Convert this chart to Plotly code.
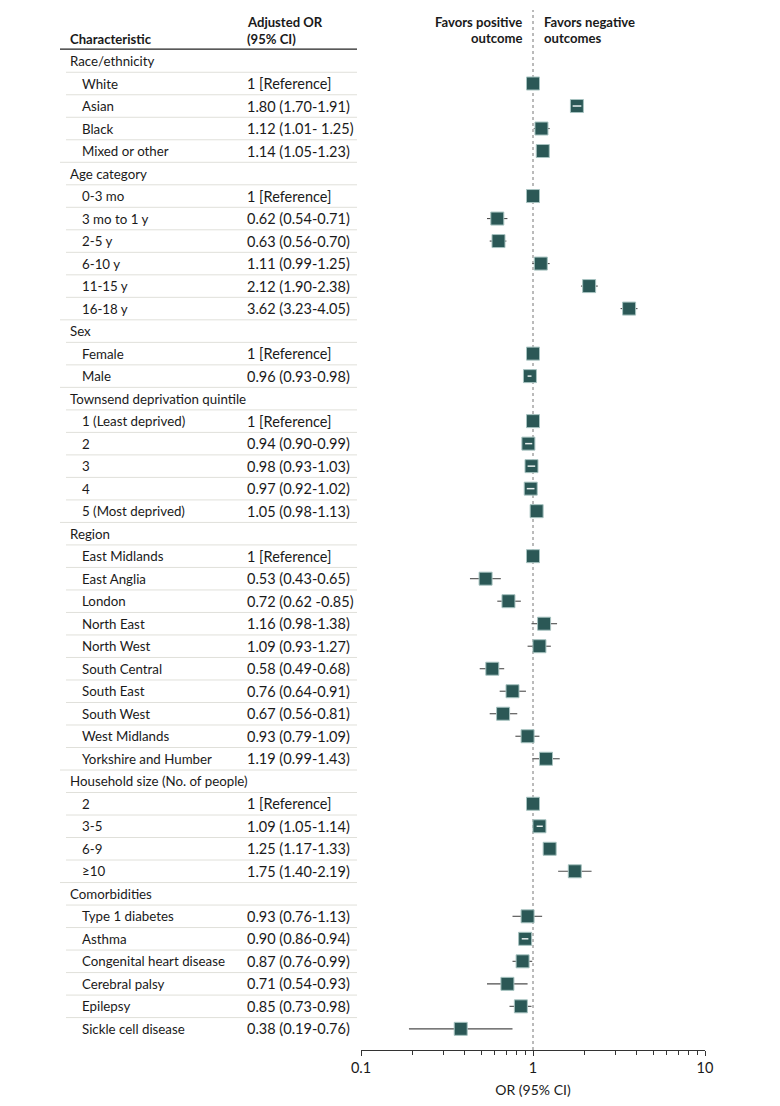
import plotly.graph_objects as go

row_labels = [
    "Race/ethnicity", "White", "Asian", "Black", "Mixed or other",
    "Age category", "0-3 mo", "3 mo to 1 y", "2-5 y", "6-10 y", "11-15 y", "16-18 y",
    "Sex", "Female", "Male",
    "Townsend deprivation quintile", "1 (Least deprived)", "2", "3", "4", "5 (Most deprived)",
    "Region", "East Midlands", "East Anglia", "London", "North East", "North West",
    "South Central", "South East", "South West", "West Midlands", "Yorkshire and Humber",
    "Household size (No. of people)", "2", "3-5", "6-9", "≥10",
    "Comorbidities", "Type 1 diabetes", "Asthma", "Congenital heart disease",
    "Cerebral palsy", "Epilepsy", "Sickle cell disease",
]
or_values = [
    None, 1, 1.80, 1.12, 1.14,
    None, 1, 0.62, 0.63, 1.11, 2.12, 3.62,
    None, 1, 0.96,
    None, 1, 0.94, 0.98, 0.97, 1.05,
    None, 1, 0.53, 0.72, 1.16, 1.09, 0.58, 0.76, 0.67, 0.93, 1.19,
    None, 1, 1.09, 1.25, 1.75,
    None, 0.93, 0.90, 0.87, 0.71, 0.85, 0.38,
]
ci_low = [
    None, None, 1.70, 1.01, 1.05,
    None, None, 0.54, 0.56, 0.99, 1.90, 3.23,
    None, None, 0.93,
    None, None, 0.90, 0.93, 0.92, 0.98,
    None, None, 0.43, 0.62, 0.98, 0.93, 0.49, 0.64, 0.56, 0.79, 0.99,
    None, None, 1.05, 1.17, 1.40,
    None, 0.76, 0.86, 0.76, 0.54, 0.73, 0.19,
]
ci_high = [
    None, None, 1.91, 1.25, 1.23,
    None, None, 0.71, 0.70, 1.25, 2.38, 4.05,
    None, None, 0.98,
    None, None, 0.99, 1.03, 1.02, 1.13,
    None, None, 0.65, 0.85, 1.38, 1.27, 0.68, 0.91, 0.81, 1.09, 1.43,
    None, None, 1.14, 1.33, 2.19,
    None, 1.13, 0.94, 0.99, 0.93, 0.98, 0.76,
]
or_text = [
    "", "1 [Reference]", "1.80 (1.70-1.91)", "1.12 (1.01- 1.25)", "1.14 (1.05-1.23)",
    "", "1 [Reference]", "0.62 (0.54-0.71)", "0.63 (0.56-0.70)", "1.11 (0.99-1.25)",
    "2.12 (1.90-2.38)", "3.62 (3.23-4.05)",
    "", "1 [Reference]", "0.96 (0.93-0.98)",
    "", "1 [Reference]", "0.94 (0.90-0.99)", "0.98 (0.93-1.03)", "0.97 (0.92-1.02)",
    "1.05 (0.98-1.13)",
    "", "1 [Reference]", "0.53 (0.43-0.65)", "0.72 (0.62 -0.85)", "1.16 (0.98-1.38)",
    "1.09 (0.93-1.27)", "0.58 (0.49-0.68)", "0.76 (0.64-0.91)", "0.67 (0.56-0.81)",
    "0.93 (0.79-1.09)", "1.19 (0.99-1.43)",
    "", "1 [Reference]", "1.09 (1.05-1.14)", "1.25 (1.17-1.33)", "1.75 (1.40-2.19)",
    "", "0.93 (0.76-1.13)", "0.90 (0.86-0.94)", "0.87 (0.76-0.99)", "0.71 (0.54-0.93)",
    "0.85 (0.73-0.98)", "0.38 (0.19-0.76)",
]
major_ticks = [0.1, 1, 10]
major_tick_text = ["0.1", "1", "10"]
minor_ticks = [0.2, 0.3, 0.4, 0.5, 0.6, 0.7, 0.8, 0.9, 2, 3, 4, 5, 6, 7, 8, 9]

FONT = "Lato"
FS_LABEL = 13.3
FS_NUM = 14.5
FS_HEAD = 13.1
TXT = "#1a1a1a"
BOX = "#2b5856"

# page body adds an 8px offset; compensate
OX = -8

n = len(row_labels)
ys = [-i for i in range(n)]

fig = go.Figure()

px, py, em, ep = [], [], [], []
for i in range(n):
    v = or_values[i]
    if v is None:
        continue
    px.append(v)
    py.append(ys[i])
    lo, hi = ci_low[i], ci_high[i]
    em.append(v - lo if lo is not None else 0)
    ep.append(hi - v if hi is not None else 0)

fig.add_trace(go.Scatter(
    x=px, y=py, mode="markers",
    marker=dict(symbol="square", size=13, color=BOX, line=dict(color="#a7c3c0", width=1)),
    error_x=dict(type="data", symmetric=False, array=ep, arrayminus=em,
                 thickness=1.1, width=0, color="#4d4d4d"),
    hoverinfo="skip", showlegend=False,
))

wx, wy = [], []
for i in range(n):
    lo, hi = ci_low[i], ci_high[i]
    if lo is not None and hi / lo < 1.13:
        wx += [lo, hi, None]
        wy += [ys[i], ys[i], None]
fig.add_trace(go.Scatter(x=wx, y=wy, mode="lines", line=dict(color="#e6eeed", width=1.5),
                         hoverinfo="skip", showlegend=False))

W, H = 780, 1106
shapes = []
annotations = []

shapes.append(dict(type="line", xref="x", yref="paper", x0=1, x1=1, y0=0, y1=1,
                   line=dict(color="#777777", width=1, dash="dot"), layer="below"))


def txt(x, y, s, size, anchor="left"):
    annotations.append(dict(xref="paper", yref="y", x=(x + OX) / W, y=y, text=s,
                            xanchor=anchor, yanchor="middle", showarrow=False,
                            font=dict(family=FONT, size=size, color=TXT)))


txt(68, 0.98, "<b>Characteristic</b>", FS_HEAD)
txt(245, 1.73, "<b>Adjusted OR</b>", FS_HEAD)
txt(245, 0.98, "<b>(95% CI)</b>", FS_HEAD)
txt(524, 1.73, "<b>Favors positive</b>", FS_HEAD, "right")
txt(524, 1.02, "<b>outcome</b>", FS_HEAD, "right")
txt(542, 1.73, "<b>Favors negative</b>", FS_HEAD)
txt(542, 1.02, "<b>outcomes</b>", FS_HEAD)
shapes.append(dict(type="line", xref="paper", yref="y", x0=(60 + OX) / W, x1=(357 + OX) / W,
                   y0=0.53, y1=0.53, line=dict(color="#222222", width=1.3)))

for i in range(n):
    is_group = or_values[i] is None
    txt(68 if is_group else 80, ys[i], row_labels[i], FS_LABEL)
    if or_text[i]:
        txt(245, ys[i], or_text[i], FS_NUM)
    if i < n - 1:
        nxt_group = or_values[i + 1] is None
        shapes.append(dict(type="line", xref="paper", yref="y",
                           x0=((60 if nxt_group else 66) + OX) / W, x1=(357 + OX) / W,
                           y0=ys[i] - 0.5, y1=ys[i] - 0.5,
                           line=dict(color="#e0e0da", width=1)))

fig.update_layout(
    width=W, height=H,
    margin=dict(l=0, r=0, t=2, b=64, pad=0, autoexpand=False),
    paper_bgcolor="white", plot_bgcolor="white",
    shapes=shapes, annotations=annotations,
    font=dict(family=FONT, size=FS_LABEL, color=TXT),
    xaxis=dict(type="log", range=[-1, 1], domain=[(361 + OX) / W, (705 + OX) / W],
               tickvals=major_ticks, ticktext=major_tick_text,
               ticks="outside", ticklen=5, tickwidth=1, tickcolor="#333333",
               minor=dict(tickvals=minor_ticks, ticks="outside", ticklen=3.5, tickwidth=1,
                          tickcolor="#333333", showgrid=False),
               showline=True, linecolor="#333333", linewidth=1,
               showgrid=False, zeroline=False, automargin=False,
               tickfont=dict(family=FONT, size=14.5, color=TXT),
               title=dict(text="OR (95% CI)", font=dict(family=FONT, size=14, color=TXT), standoff=9)),
    yaxis=dict(range=[-43.94, 2.266], visible=False, showgrid=False, zeroline=False,
               fixedrange=True, automargin=False),
)

fig.write_html("out.html")
